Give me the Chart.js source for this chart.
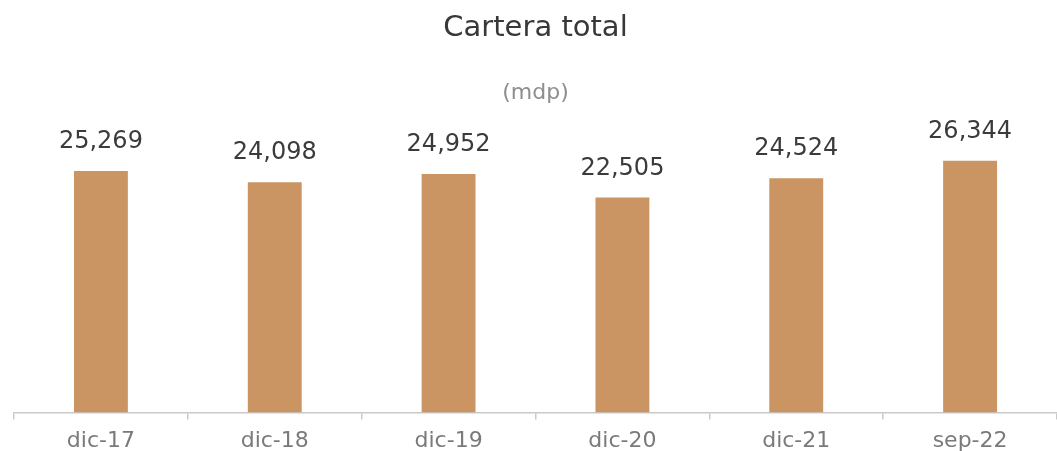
<!DOCTYPE html>
<html>
<head>
<meta charset="utf-8">
<script src="https://cdn.jsdelivr.net/npm/chart.js@4"></script>
<style>
    html, body { margin: 0; padding: 0; background: #ffffff; }
    #wrap { width: 1057px; height: 451px; }
</style>
</head>
<body>
<div id="wrap"><canvas id="chart" width="1057" height="451"></canvas></div>
<script>
// cartera total, millones de pesos
const periods = ["dic-17", "dic-18", "dic-19", "dic-20", "dic-21", "sep-22"];
const cartera = [25269, 24098, 24952, 22505, 24524, 26344];

const fontFamily = "'DejaVu Sans', sans-serif";

// writes the value above each bar, using the bar element positions
const valueLabels = {
    id: "valueLabels",
    afterDatasetsDraw: (chart)=>{
        let ctx = chart.ctx;
        let meta = chart.getDatasetMeta(0);
        ctx.save();
        ctx.font = `24px ${fontFamily}`;
        ctx.fillStyle = "#3b3b3b";
        ctx.textAlign = "center";
        ctx.textBaseline = "bottom";
        meta.data.forEach((bar, i)=>{
            let v = chart.data.datasets[0].data[i];
            ctx.fillText(v.toLocaleString("en-US"), bar.x, bar.y - 17);
        });
        ctx.restore();
    }
};

new Chart(document.getElementById("chart"), {
    type: "bar",
    data: {
        labels: periods,
        datasets: [{
            data: cartera,
            backgroundColor: "#ca9563",
            barPercentage: 0.31,
            categoryPercentage: 1,
        }],
    },
    options: {
        responsive: false,
        animation: false,
        layout: {
            padding: {left: 14, right: 0, top: 0, bottom: -11},
        },
        plugins: {
            legend: {display: false},
            tooltip: {enabled: false},
            title: {
                display: true,
                text: "Cartera total",
                color: "#383838",
                font: {family: fontFamily, size: 29, weight: "normal"},
                padding: {top: 11, bottom: 34},
            },
            subtitle: {
                display: true,
                text: "(mdp)",
                color: "#8e8e8e",
                font: {family: fontFamily, size: 22, weight: "normal"},
                padding: {top: 0, bottom: 12},
            },
        },
        scales: {
            x: {
                border: {display: true, color: "#c9c9c9", width: 1.5},
                grid: {
                    display: true,
                    offset: true,
                    drawOnChartArea: false,
                    drawTicks: true,
                    tickLength: 7,
                    color: "#c9c9c9",
                    lineWidth: 1.5,
                },
                ticks: {
                    color: "#7a7a7a",
                    font: {family: fontFamily, size: 22},
                    padding: 8,
                },
            },
            y: {
                display: false,
                min: 0,
                max: 30800,
            },
        },
    },
    plugins: [valueLabels],
});
</script>
</body>
</html>
